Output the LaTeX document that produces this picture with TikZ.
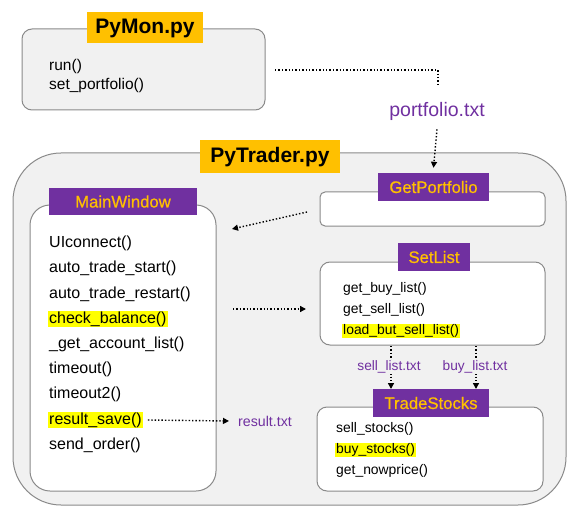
\documentclass[tikz,border=0pt]{standalone}
\usepackage{fontspec}
\setmainfont{Liberation Sans}
\newfontfamily\classfont[FakeBold=0.6]{Liberation Sans}
\usetikzlibrary{arrows.meta}
\definecolor{lblorange}{HTML}{FFC000}
\definecolor{lblpurple}{HTML}{7030A0}
\definecolor{boxgray}{HTML}{F1F1F1}
\definecolor{linegray}{HTML}{8A8A8A}
\definecolor{hl}{HTML}{FFFF00}
\tikzset{
  outerbox/.style={draw=linegray, line width=1pt, fill=boxgray},
  innerbox/.style={draw=linegray, line width=1pt, fill=white},
  titlelbl/.style={fill=lblorange, text=black, font=\fontsize{21}{24}\selectfont\bfseries, inner sep=0pt},
  classlbl/.style={fill=lblpurple, text=lblorange, font=\classfont\fontsize{16.7}{19}\selectfont, inner sep=0pt},
  method/.style={anchor=west, font=\fontsize{16}{19}\selectfont, inner sep=1pt, text=black},
  pmethod/.style={anchor=west, font=\fontsize{15.5}{18}\selectfont, inner sep=1pt, text=black},
  smethod/.style={anchor=west, font=\fontsize{13.9}{16}\selectfont, inner sep=1pt, text=black},
  hlmethod/.style={fill=hl},
  filelbl/.style={text=lblpurple, inner sep=1pt},
  flow/.style={dotted, line width=1.4pt, -{Triangle[length=6pt,width=6pt]}},
  flownohead/.style={dotted, line width=1.4pt}
}
\begin{document}
\begin{tikzpicture}[x=1pt,y=-1pt]
\useasboundingbox (0,0) rectangle (580,521);
% PyMon
\draw[outerbox, rounded corners=10pt] (22,29) rectangle (265,110);
\node[titlelbl, minimum width=116pt, minimum height=31pt] (pymon) at (145,28) {PyMon.py};
\node[pmethod] (run) at (48,66) {run()};
\node[pmethod] (setp) at (48,85) {set\_portfolio()};
\coordinate (pmout) at (275,70);
\coordinate (pmcorner) at (438,70);
\coordinate (pmend) at (438,87);
\draw[flownohead] (pmout) -- (pmcorner) -- (pmend);
\node[filelbl, font=\fontsize{19.5}{22}\selectfont] (portf) at (437,111) {portfolio.txt};
% PyTrader
\draw[outerbox, rounded corners=48pt] (13,153) rectangle (566,505);
\node[titlelbl, minimum width=140pt, minimum height=33pt] (pytrader) at (270,157) {PyTrader.py};
% GetPortfolio
\draw[innerbox, rounded corners=5pt] (320,192) rectangle (545,226);
\node[classlbl, minimum width=111pt, minimum height=28pt] (getp) at (433.5,187) {GetPortfolio};
\draw[flow] ([yshift=-8pt]portf.south) -- ([yshift=5pt]getp.north);
% MainWindow
\draw[innerbox, rounded corners=20pt] (30,205) rectangle (216,491);
\node[classlbl, minimum width=148pt, minimum height=27pt] (mainw) at (123,201.5) {MainWindow};
\node[method] (m1) at (48,243) {UIconnect()};
\node[method] (m2) at (48,268) {auto\_trade\_start()};
\node[method] (m3) at (48,294) {auto\_trade\_restart()};
\node[method, hlmethod] (m4) at (48,319) {check\_balance()};
\node[method] (m5) at (48,344) {\_get\_account\_list()};
\node[method] (m6) at (48,369) {timeout()};
\node[method] (m7) at (48,394) {timeout2()};
\node[method, hlmethod] (m8) at (48,420) {result\_save()};
\node[method] (m9) at (48,445) {send\_order()};
\coordinate (gpout) at (307,212);
\coordinate (mwin) at (232,229);
\draw[flow] (gpout) -- (mwin);
\coordinate (mwout) at (233,309);
\coordinate (slin) at (306,309);
\draw[flow] (mwout) -- (slin);
\node[filelbl, anchor=west, font=\fontsize{14.2}{16}\selectfont] (res) at (237,421) {result.txt};
\draw[flow] ([xshift=5pt]m8.east) -- ([xshift=-8pt]res.west);
% SetList
\draw[innerbox, rounded corners=10pt] (320,262) rectangle (545,345);
\node[classlbl, minimum width=72pt, minimum height=28pt] (setl) at (434,257) {SetList};
\node[smethod] (s1) at (342,289) {get\_buy\_list()};
\node[smethod] (s2) at (342,310) {get\_sell\_list()};
\node[smethod, hlmethod] (s3) at (342,331) {load\_but\_sell\_list()};
% TradeStocks
\draw[innerbox, rounded corners=10pt] (317,407) rectangle (543,491);
\node[classlbl, minimum width=116pt, minimum height=28pt] (trade) at (431,403) {TradeStocks};
\node[smethod] (t1) at (335,429) {sell\_stocks()};
\node[smethod, hlmethod] (t2) at (335,450) {buy\_stocks()};
\node[smethod] (t3) at (335,471) {get\_nowprice()};
\coordinate (sella) at (391,346);
\coordinate (sellb) at (391,389);
\coordinate (buya) at (476,346);
\coordinate (buyb) at (476,389);
\draw[flow] (sella) -- (sellb);
\draw[flow] (buya) -- (buyb);
\node[filelbl, fill=boxgray, font=\fontsize{13.7}{16}\selectfont] (sellf) at (389,367) {sell\_list.txt};
\node[filelbl, fill=boxgray, font=\fontsize{13.7}{16}\selectfont] (buyf) at (475,367) {buy\_list.txt};
\end{tikzpicture}
\end{document}
